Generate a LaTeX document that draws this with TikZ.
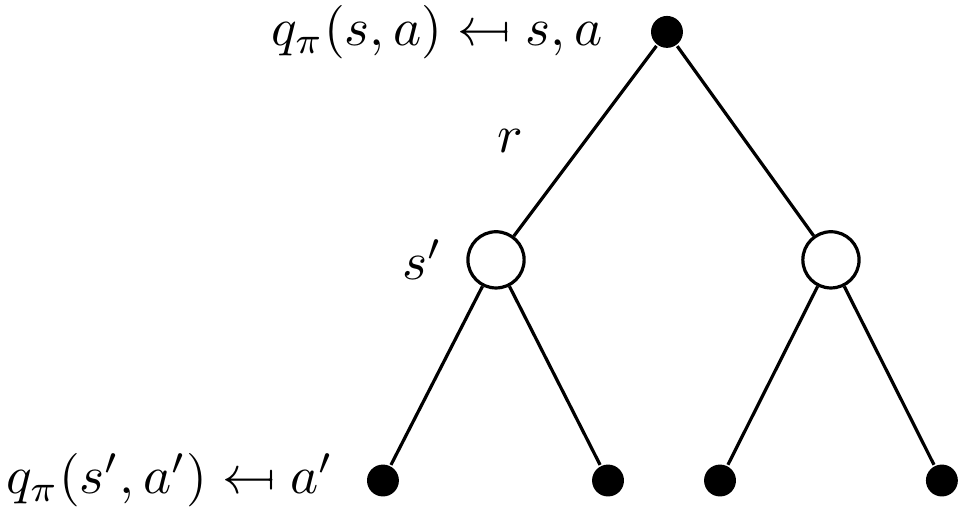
\documentclass[tikz,border=0pt]{standalone}
\usepackage{amsmath,amssymb,stmaryrd}
\usetikzlibrary{positioning}

\tikzset{
  actiondot/.style={circle, fill=black, inner sep=0pt, minimum size=2.1mm},
  statenode/.style={circle, draw=black, fill=white, inner sep=0pt, minimum size=3.7mm},
}

\begin{document}
\begin{tikzpicture}[line width=0.6pt]
  \useasboundingbox (0,0) rectangle (6.337,3.362);
  % root action
  \node[actiondot] (root) at (4.389,3.152) {};
  \node[left=0.18cm of root] (rootlab) {$q_\pi(s,a) \mapsfrom s,a$};
  % next states
  \node[statenode] (sL) at (3.264,1.652) {};
  \node[statenode] (sR) at (5.468,1.652) {};
  \node[left=0.03cm of sL] (slab) {$s'$};
  % next actions
  \node[actiondot] (aLL) at (2.520,0.2) {};
  \node[actiondot] (aLR) at (4.001,0.2) {};
  \node[actiondot] (aRL) at (4.738,0.2) {};
  \node[actiondot] (aRR) at (6.198,0.2) {};
  \node[left=0.08cm of aLL] (alab) {$q_\pi(s',a') \mapsfrom a'$};
  % edges
  \draw (root) -- node[left=0.28cm] (rlab) {$r$} (sL);
  \draw (root) -- (sR);
  \draw (sL) -- (aLL);
  \draw (sL) -- (aLR);
  \draw (sR) -- (aRL);
  \draw (sR) -- (aRR);
\end{tikzpicture}
\end{document}
